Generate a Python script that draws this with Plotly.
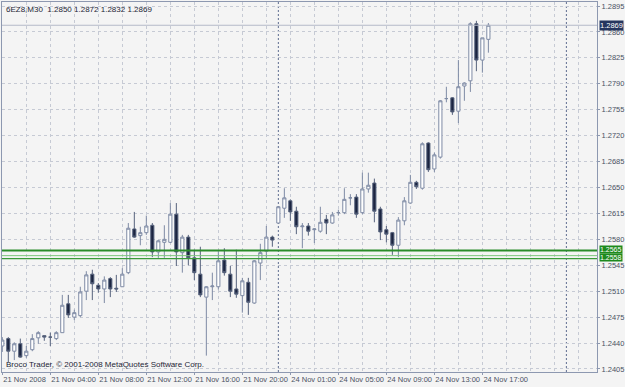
import plotly.graph_objects as go

# ---- data (M30 bars, 6EZ8) ----
bar_index = list(range(82))
opens = [1.2436, 1.2446, 1.2429, 1.2439, 1.2423, 1.2431, 1.2447, 1.2450, 1.2448, 1.2446,
         1.2454, 1.2493, 1.2475, 1.2477, 1.2510, 1.2533, 1.2518, 1.2513, 1.2527, 1.2514,
         1.2516, 1.2535, 1.2594, 1.2585, 1.2589, 1.2599, 1.2563, 1.2576, 1.2576, 1.2614,
         1.2562, 1.2583, 1.2555, 1.2533, 1.2502, 1.2516, 1.2516, 1.2552, 1.2533, 1.2513,
         1.2504, 1.2522, 1.2494, 1.2548, 1.2564, 1.2583, 1.2602, 1.2622, 1.2632, 1.2618,
         1.2597, 1.2598, 1.2593, 1.2591, 1.2607, 1.2602, 1.2616, 1.2616, 1.2636, 1.2637,
         1.2616, 1.2648, 1.2656, 1.2621, 1.2593, 1.2589, 1.2572, 1.2605, 1.2629, 1.2657,
         1.2649, 1.2710, 1.2675, 1.2691, 1.2770, 1.2771, 1.2753, 1.2787, 1.2794, 1.2871,
         1.2822, 1.2850]
highs = [1.2448, 1.2448, 1.2441, 1.2446, 1.2436, 1.2452, 1.2456, 1.2450, 1.2454, 1.2456,
         1.2505, 1.2505, 1.2485, 1.2516, 1.2537, 1.2539, 1.2521, 1.2530, 1.2529, 1.2532,
         1.2541, 1.2602, 1.2617, 1.2597, 1.2612, 1.2602, 1.2579, 1.2599, 1.2629, 1.2629,
         1.2586, 1.2586, 1.2566, 1.2570, 1.2517, 1.2535, 1.2564, 1.2568, 1.2544, 1.2566,
         1.2528, 1.2528, 1.2552, 1.2574, 1.2598, 1.2585, 1.2625, 1.2649, 1.2634, 1.2624,
         1.2602, 1.2602, 1.2595, 1.2624, 1.2613, 1.2617, 1.2620, 1.2649, 1.2641, 1.2641,
         1.2670, 1.2670, 1.2662, 1.2624, 1.2598, 1.2590, 1.2610, 1.2637, 1.2667, 1.2659,
         1.2711, 1.2711, 1.2697, 1.2768, 1.2786, 1.2772, 1.2822, 1.2792, 1.2873, 1.2875,
         1.2852, 1.2872]
lows = [1.2428, 1.2414, 1.2417, 1.2420, 1.2420, 1.2429, 1.2439, 1.2443, 1.2436, 1.2444,
        1.2454, 1.2474, 1.2471, 1.2475, 1.2498, 1.2498, 1.2508, 1.2494, 1.2502, 1.2509,
        1.2516, 1.2533, 1.2582, 1.2572, 1.2586, 1.2556, 1.2555, 1.2555, 1.2575, 1.2544,
        1.2535, 1.2545, 1.2525, 1.2502, 1.2423, 1.2498, 1.2512, 1.2531, 1.2502, 1.2501,
        1.2481, 1.2478, 1.2493, 1.2525, 1.2555, 1.2570, 1.2601, 1.2609, 1.2605, 1.2587,
        1.2568, 1.2585, 1.2575, 1.2589, 1.2587, 1.2601, 1.2612, 1.2614, 1.2626, 1.2609,
        1.2614, 1.2643, 1.2603, 1.2579, 1.2576, 1.2559, 1.2556, 1.2599, 1.2628, 1.2648,
        1.2647, 1.2671, 1.2671, 1.2689, 1.2765, 1.2748, 1.2737, 1.2767, 1.2779, 1.2807,
        1.2805, 1.2832]
closes = [1.2444, 1.2429, 1.2439, 1.2421, 1.2429, 1.2446, 1.2454, 1.2448, 1.2448, 1.2454,
          1.2491, 1.2478, 1.2481, 1.2509, 1.2532, 1.2520, 1.2513, 1.2525, 1.2513, 1.2513,
          1.2533, 1.2595, 1.2583, 1.2589, 1.2598, 1.2563, 1.2578, 1.2580, 1.2614, 1.2563,
          1.2583, 1.2555, 1.2535, 1.2505, 1.2516, 1.2517, 1.2551, 1.2535, 1.2510, 1.2506,
          1.2524, 1.2495, 1.2551, 1.2562, 1.2583, 1.2579, 1.2624, 1.2636, 1.2617, 1.2597,
          1.2598, 1.2591, 1.2594, 1.2603, 1.2602, 1.2613, 1.2616, 1.2634, 1.2636, 1.2614,
          1.2648, 1.2653, 1.2618, 1.2590, 1.2587, 1.2572, 1.2606, 1.2632, 1.2657, 1.2651,
          1.2709, 1.2674, 1.2694, 1.2767, 1.2770, 1.2752, 1.2786, 1.2791, 1.2871, 1.2822,
          1.2852, 1.2869]

time_labels = ["21 Nov 2008", "21 Nov 04:00", "21 Nov 08:00", "21 Nov 12:00", "21 Nov 16:00",
               "21 Nov 20:00", "24 Nov 01:00", "24 Nov 05:00", "24 Nov 09:00", "24 Nov 13:00",
               "24 Nov 17:00"]
label_every = 8          # bars between time labels
price_ticks = [1.2405, 1.2440, 1.2475, 1.2510, 1.2545, 1.2580, 1.2615, 1.2650, 1.2685,
               1.2720, 1.2755, 1.2790, 1.2825, 1.2860, 1.2895]
day_separators = [46, 94]
bid_price = 1.2869
green_levels = [1.2565, 1.2558, 1.2554]
green_labels = ["1.2565", "1.2558"]
title_text = "6EZ8,M30  1.2850 1.2872 1.2832 1.2869"
copyright_text = "Broco Trader, © 2001-2008 MetaQuotes Software Corp."

# ---- styles ----
BG = "#f4f4f4"
FRAME = "#8d98b0"
GRID = "#c6cad4"
TXT = "#4a5263"
FONT = "Liberation Sans"
GRIDDASH = "3px,3px"

fig = go.Figure()
fig.add_trace(go.Candlestick(
    x=bar_index, open=opens, high=highs, low=lows, close=closes,
    increasing=dict(fillcolor="#ffffff", line=dict(color="#7e8aa4", width=1)),
    decreasing=dict(fillcolor="#1b2440", line=dict(color="#56627c", width=1)),
    hoverinfo="skip", showlegend=False,
))

major_vals = [i * label_every for i in range(len(time_labels))]
minor_vals = [v for v in range(0, 100, 4) if v not in major_vals]

shapes = []
for d in day_separators:
    shapes.append(dict(type="line", xref="x", yref="paper", x0=d, x1=d, y0=0, y1=1,
                       line=dict(color="#5f6d90", width=1, dash="2px,2px"), layer="below"))
shapes.append(dict(type="line", xref="paper", yref="y", x0=0, x1=1, y0=bid_price, y1=bid_price,
                   line=dict(color="#b4b9c8", width=1)))
green_styles = [("#2a8c2a", 2), ("#7cc67c", 1), ("#3a9a3a", 1.2)]
for lv, (c, w) in zip(green_levels, green_styles):
    shapes.append(dict(type="line", xref="paper", yref="y", x0=0, x1=1, y0=lv, y1=lv,
                       line=dict(color=c, width=w)))

annotations = [
    dict(text=title_text, xref="paper", yref="paper", x=0, y=1, xanchor="left", yanchor="top",
         xshift=2, yshift=-1, showarrow=False, font=dict(family=FONT, size=8, color="#1e2636")),
    dict(text=copyright_text, xref="paper", yref="paper", x=0, y=0, xanchor="left", yanchor="bottom",
         xshift=2, yshift=1, showarrow=False, font=dict(family=FONT, size=8, color="#1e2636")),
    dict(text=f"{bid_price:.4f}", xref="paper", yref="y", x=1, y=bid_price, xanchor="left",
         yanchor="middle", xshift=2, showarrow=False, bgcolor="#26365e", borderpad=0,
         font=dict(family=FONT, size=7.5, color="#ffffff")),
]
for lv, lab, ys in zip(green_levels[:2], green_labels, [1, -2]):
    annotations.append(dict(text=lab, xref="paper", yref="y", x=1, y=lv, xanchor="left",
                            yanchor="middle", xshift=2, yshift=ys, showarrow=False, bgcolor="#1d8a1d",
                            borderpad=0, font=dict(family=FONT, size=7, color="#ffffff")))

fig.update_layout(
    width=625, height=387,
    margin=dict(l=2, r=28, t=2, b=15, pad=0, autoexpand=False),
    paper_bgcolor=BG, plot_bgcolor=BG,
    boxgap=0.25,
    shapes=shapes, annotations=annotations,
    font=dict(family=FONT, size=8, color=TXT),
    xaxis=dict(
        range=[-0.05, 99.1], rangeslider=dict(visible=False),
        tickmode="array", tickvals=major_vals, ticktext=time_labels, tickangle=0,
        ticks="outside", ticklen=2, tickcolor=FRAME, ticklabelposition="outside right",
        showgrid=True, gridcolor=GRID, griddash=GRIDDASH, gridwidth=1,
        minor=dict(tickvals=minor_vals, showgrid=True, gridcolor=GRID, griddash=GRIDDASH, ticks=""),
        showline=True, linecolor=FRAME, linewidth=1, mirror=True, zeroline=False,
        tickfont=dict(family=FONT, size=7.5, color=TXT), fixedrange=True, automargin=False,
    ),
    yaxis=dict(
        range=[1.24009, 1.29004], side="right",
        tickmode="array", tickvals=price_ticks, ticktext=[f"{v:.4f}" for v in price_ticks],
        ticks="outside", ticklen=2, tickcolor=FRAME,
        showgrid=True, gridcolor=GRID, griddash=GRIDDASH, gridwidth=1,
        showline=True, linecolor=FRAME, linewidth=1, mirror=True, zeroline=False,
        tickfont=dict(family=FONT, size=7.5, color=TXT), fixedrange=True, automargin=False,
    ),
)

fig.write_html("out.html")
